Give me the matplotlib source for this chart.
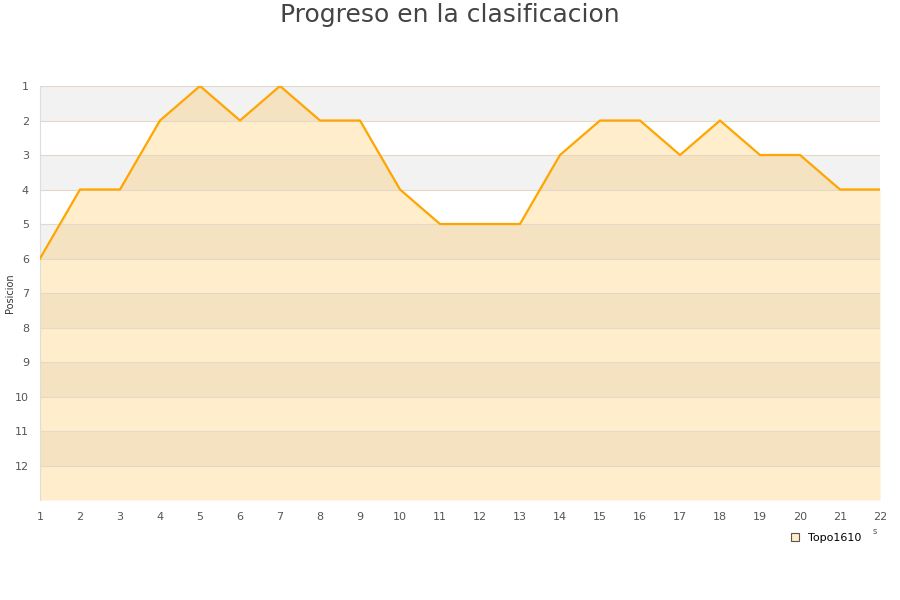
import matplotlib
matplotlib.use("Agg")
import matplotlib.pyplot as plt
from matplotlib.patches import Patch

jornadas = list(range(1, 23))
posiciones = [6, 4, 4, 2, 1, 2, 1, 2, 2, 4, 5, 5, 5, 3, 2, 2, 3, 2, 3, 3, 4, 4]
equipo = "Topo1610"
titulo = "Progreso en la clasificacion"

fig = plt.figure(figsize=(9, 6), dpi=100)
ax = fig.add_axes([40 / 900, 1 - 500 / 600, 840 / 900, 414 / 600])

# alternating bands in the background
for k in range(1, 13):
    if k % 2 == 1:
        ax.axhspan(k, k + 1, color="#f2f2f2", zorder=0, lw=0)

ax.fill_between(jornadas, posiciones, 13, color="#ffa500", alpha=0.2, lw=0, zorder=1)
ax.plot(jornadas, posiciones, color="#ffa500", lw=1.6, zorder=3)

ax.set_xlim(1, 22)
ax.set_ylim(13, 1)
ax.set_xticks(jornadas)
ax.set_yticks(range(1, 13))
ax.tick_params(length=0, labelsize=8, colors="#555555")
ax.tick_params(axis="y", pad=8)
ax.tick_params(axis="x", pad=9)
ax.grid(axis="y", color="#e3d9c6", lw=0.8, zorder=2)
for s in ["top", "right", "bottom"]:
    ax.spines[s].set_visible(False)
ax.spines["left"].set_color("#dddddd")
ax.axhline(13, color="#dddddd", lw=0.8)

ax.set_ylabel("Posicion", fontsize=7, color="#333333")
ax.yaxis.set_label_coords(-0.0357, 0.5)
ax.yaxis.label.set_va("center")

fig.text(0.5, 1 - 15 / 600, titulo, ha="center", va="center", fontsize=18, color="#444444")
fig.text(875 / 900, 1 - 531 / 600, "s", ha="center", va="center", fontsize=6, color="#555555")

handle = Patch(facecolor="#ffecc8", edgecolor="#555555", lw=0.8)
fig.legend([handle], [equipo], loc="center", bbox_to_anchor=(826 / 900, 1 - 538 / 600),
           frameon=False, fontsize=8, handlelength=0.7, handleheight=0.7, handletextpad=0.8)

fig.savefig("out.png", dpi=100)
